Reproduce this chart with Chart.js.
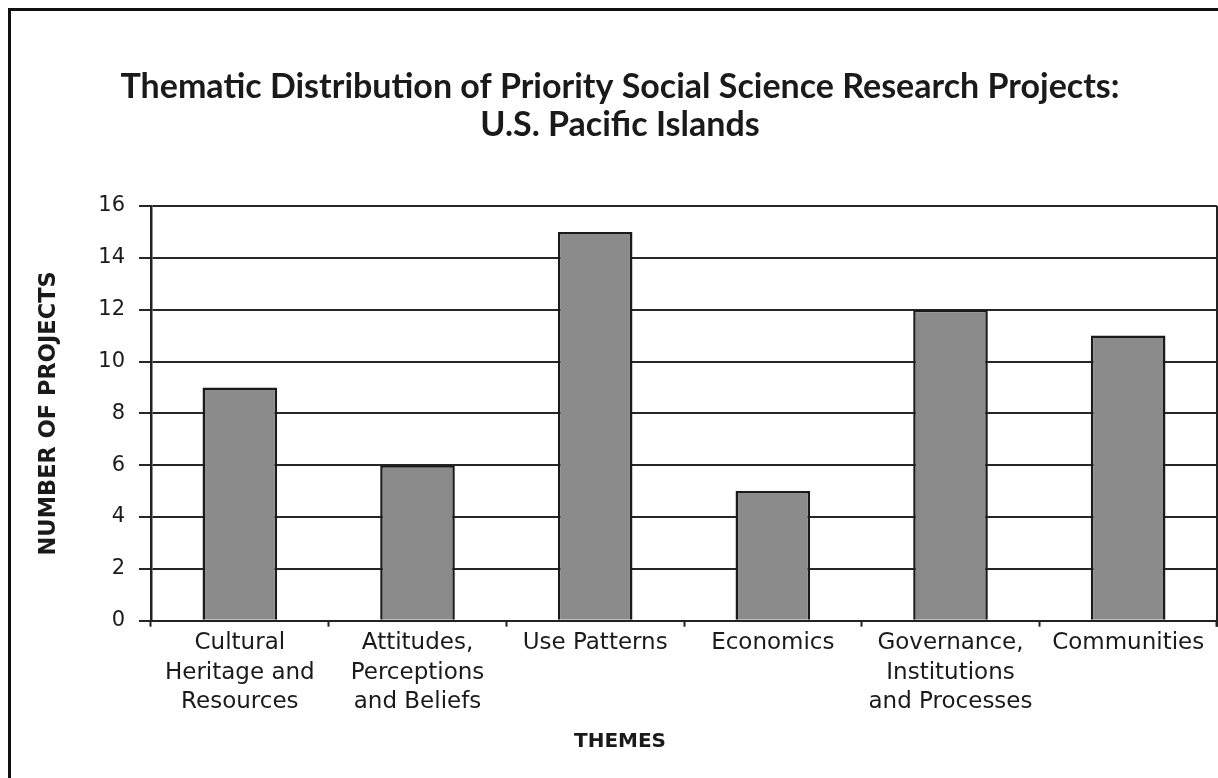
<!DOCTYPE html>
<html>
<head>
<meta charset="utf-8">
<script src="https://cdn.jsdelivr.net/npm/chart.js@4.4.1/dist/chart.umd.min.js"></script>
<style>
  html, body { margin: 0; padding: 0; background: #fff; overflow: hidden; }
  body { width: 1218px; height: 778px; position: relative; }
  #wrap { position: absolute; left: 0; top: 0; width: 1240px; height: 778px; }
  #frame {
    position: absolute; left: 8px; top: 8px; width: 1400px; height: 1000px;
    border-left: 3px solid #111; border-top: 3px solid #111;
    pointer-events: none; z-index: 2;
  }
</style>
</head>
<body>
<div id="frame"></div>
<div id="wrap"><canvas id="c" width="1240" height="778"></canvas></div>
<script>
// Themes and number of priority research projects in each
const themes = [
  ["Cultural", "Heritage and", "Resources"],
  ["Attitudes,", "Perceptions", "and Beliefs"],
  "Use Patterns",
  "Economics",
  ["Governance,", "Institutions", "and Processes"],
  "Communities"
];
const projectCounts = [9, 6, 15, 5, 12, 11];
const yTicks = [0, 2, 4, 6, 8, 10, 12, 14, 16];

const titleLines = [
  "Thematic Distribution of Priority Social Science Research Projects:",
  "U.S. Pacific Islands"
];
const xTitle = "THEMES";
const yTitle = "NUMBER OF PROJECTS";

const TITLE_FONT = "Lato, 'Open Sans', sans-serif";
const FONT = "'DejaVu Sans', 'Liberation Sans', sans-serif";
const INK = "#1a1a1a";

// Closing line on the right side of the plot area
const rightEdge = {
  id: "rightEdge",
  beforeDatasetsDraw(chart) {
    const { ctx, chartArea } = chart;
    ctx.save();
    ctx.strokeStyle = "#222";
    ctx.lineWidth = 2;
    ctx.beginPath();
    ctx.moveTo(chartArea.right, chartArea.top);
    ctx.lineTo(chartArea.right, chartArea.bottom + 6);
    ctx.stroke();
    ctx.restore();
  }
};

new Chart(document.getElementById("c"), {
  type: "bar",
  data: {
    labels: themes,
    datasets: [{
      data: projectCounts,
      backgroundColor: "#8b8b8b",
      borderColor: "#1a1a1a",
      borderWidth: 2.5,
      barPercentage: 0.42,
      categoryPercentage: 1
    }]
  },
  options: {
    responsive: false,
    animation: false,
    devicePixelRatio: 1,
    layout: { padding: { left: 23, right: 23, top: 0, bottom: 0 } },
    plugins: {
      legend: { display: false },
      tooltip: { enabled: false },
      title: {
        display: true,
        text: titleLines,
        color: INK,
        font: { family: TITLE_FONT, size: 34, weight: "bold", lineHeight: 38 / 34 },
        padding: { top: 68, bottom: 62 }
      },
      subtitle: {
        display: true,
        position: "bottom",
        text: xTitle,
        color: INK,
        font: { family: FONT, size: 20, weight: "bold", lineHeight: 1.2 },
        padding: { top: 0, bottom: 24.5 }
      }
    },
    scales: {
      x: {
        grid: {
          display: true,
          drawOnChartArea: false,
          drawTicks: true,
          tickLength: 6,
          tickWidth: 2,
          tickColor: "#222",
          offset: true
        },
        border: { display: true, color: "#222", width: 2 },
        ticks: {
          color: INK,
          padding: 2,
          font: { family: FONT, size: 23, lineHeight: 29.5 / 23 },
          maxRotation: 0,
          autoSkip: false
        },
        afterFit(scale) { scale.height = 108.8; }
      },
      y: {
        min: 0,
        max: 16,
        afterBuildTicks(scale) { scale.ticks = yTicks.map(v => ({ value: v })); },
        grid: {
          color: "#262626",
          lineWidth: 2,
          tickLength: 12,
          tickColor: "#262626",
          tickWidth: 2
        },
        border: { display: true, color: "#222", width: 2.5 },
        ticks: {
          color: INK,
          padding: 14,
          font: { family: FONT, size: 21 }
        },
        title: {
          display: true,
          text: yTitle,
          color: INK,
          font: { family: FONT, size: 22.5, weight: "bold", lineHeight: 1.2 },
          padding: { top: 13, bottom: 0 }
        },
        afterFit(scale) { scale.width = 128; }
      }
    }
  },
  plugins: [rightEdge]
});
</script>
</body>
</html>
